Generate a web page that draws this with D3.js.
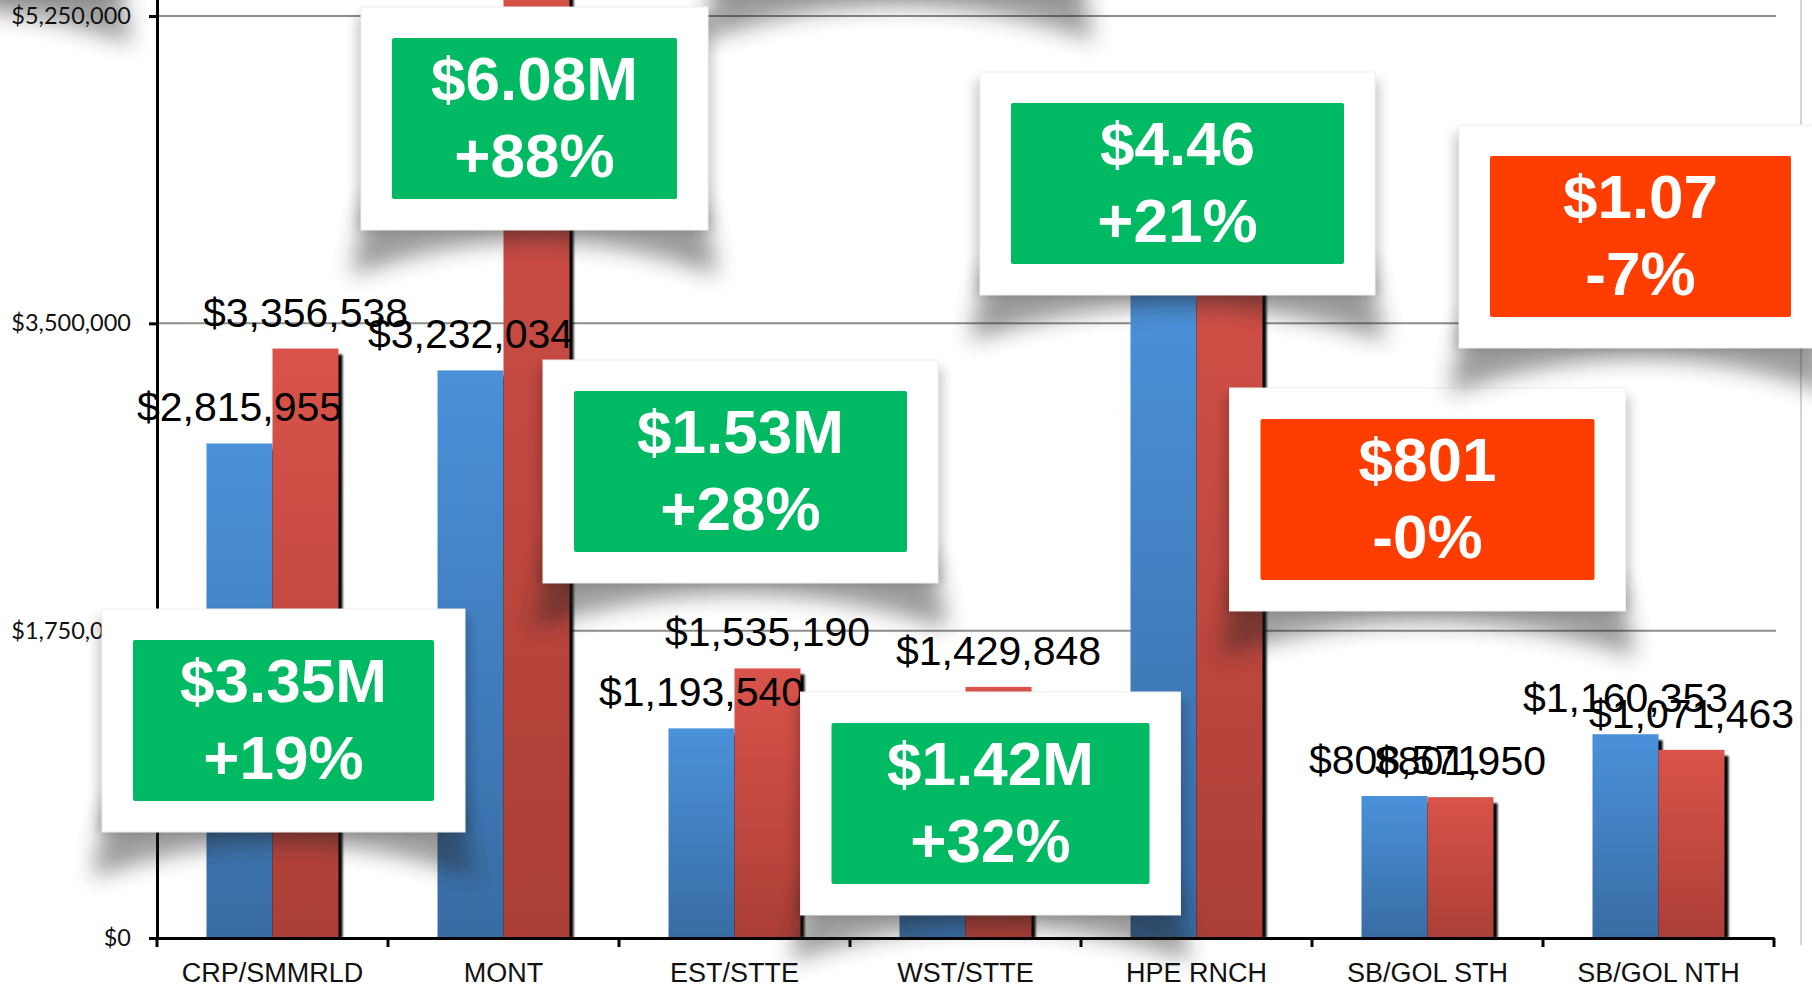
<!DOCTYPE html>
<html>
<head>
<meta charset="utf-8">
<script src="https://cdn.jsdelivr.net/npm/d3@7"></script>
<style>
  html, body { margin: 0; padding: 0; background: #fff; overflow: hidden; }
  svg { display: block; }
</style>
</head>
<body>
<div id="chart"></div>
<script>
// data
const categories = ["CRP/SMMRLD", "MONT", "EST/STTE", "WST/STTE", "HPE RNCH", "SB/GOL STH", "SB/GOL NTH"];
const seriesNames = ["before", "after"];
const beforeValues = [2815955, 3232034, 1193540, 1080000, 3680000, 808571, 1160353];
const afterValues = [3356538, 6076000, 1535190, 1429848, 4460000, 801950, 1071463];
const yTicks = [0, 1750000, 3500000, 5250000, 7000000];
const calloutAmounts = ["$3.35M", "$6.08M", "$1.53M", "$1.42M", "$4.46", "$801", "$1.07"];
const calloutChanges = ["+19%", "+88%", "+28%", "+32%", "+21%", "-0%", "-7%"];

// where the callout cards sit (offset from category centre, top of coloured box, box width)
const calloutLayout = [
    { dx: 11, top: 640, w: 301 },
    { dx: 31, top: 38, w: 285 },
    { dx: 6, top: 391, w: 333 },
    { dx: 25, top: 723, w: 318 },
    { dx: -19, top: 103, w: 333 },
    { dx: 0, top: 419, w: 334 },
    { dx: -18, top: 156, w: 301 }
];
// cards sitting above the visible area, only their shadows show
const ghostCards = [
    { x: -250, y: -227, w: 372, h: 225 },
    { x: 712, y: -230, w: 372, h: 225 }
];

const W = 1812, H = 986;
const left = 157, right = 1774, base = 938, top5250 = 16;
const green = "#00b963", orange = "#ff3d00";

const svg = d3.select("#chart").append("svg")
    .attr("width", W)
    .attr("height", H);

const defs = svg.append("defs");

function grad(id, c1, c2) {
    const g = defs.append("linearGradient").attr("id", id)
        .attr("x1", 0).attr("y1", 0).attr("x2", 0).attr("y2", 1);
    g.append("stop").attr("offset", "0%").attr("stop-color", c1);
    g.append("stop").attr("offset", "100%").attr("stop-color", c2);
}
grad("gBlue", "#4a91da", "#386ca3");
grad("gRed", "#d9534a", "#ab3f37");

function blur(id, sd) {
    defs.append("filter").attr("id", id)
        .attr("x", "-50%").attr("y", "-100%").attr("width", "200%").attr("height", "300%")
        .append("feGaussianBlur").attr("stdDeviation", sd);
}
blur("bBar", 0.8);
blur("bSide", 6);
blur("bCurl", 11);

// scales
const x0 = d3.scaleBand().domain(categories).range([left, right]);
const x1 = d3.scaleBand().domain(seriesNames).range([0, x0.bandwidth()]).paddingOuter(0.75);
const y = d3.scaleLinear().domain([0, 7000000])
    .range([base, base - (base - top5250) * 7000000 / 5250000]);

// gridlines
svg.append("g").selectAll("line")
    .data(yTicks.filter(d => d > 0))
    .join("line")
    .attr("x1", left).attr("x2", 1776)
    .attr("y1", d => y(d)).attr("y2", d => y(d))
    .attr("stroke", "#8c8c8c")
    .attr("stroke-width", 2);

// right border of the chart area
svg.append("line")
    .attr("x1", 1801).attr("x2", 1801).attr("y1", 0).attr("y2", 945)
    .attr("stroke", "#a8a8a8").attr("stroke-width", 1);

// bars
const rows = [];
categories.forEach((c, i) => {
    rows.push({ cat: c, s: "before", v: beforeValues[i] });
    rows.push({ cat: c, s: "after", v: afterValues[i] });
});

const barG = svg.append("g");
rows.forEach(d => {
    const bx = x0(d.cat) + x1(d.s);
    const by = y(d.v);
    barG.append("rect")
        .attr("x", bx + 4).attr("y", by + 6)
        .attr("width", x1.bandwidth()).attr("height", base - by - 6)
        .attr("fill", "#000")
        .attr("filter", "url(#bBar)");
    barG.append("rect")
        .attr("x", bx).attr("y", by)
        .attr("width", x1.bandwidth()).attr("height", base - by)
        .attr("fill", d.s === "before" ? "url(#gBlue)" : "url(#gRed)");
});

// value labels
svg.append("g").selectAll("text")
    .data(rows)
    .join("text")
    .attr("x", d => x0(d.cat) + x1(d.s) + x1.bandwidth() / 2)
    .attr("y", d => y(d.v) - 22)
    .attr("text-anchor", "middle")
    .style("font-family", "'Liberation Sans', Arial, sans-serif")
    .style("font-size", "41px")
    .attr("fill", "#000")
    .text(d => d3.format("$,")(d.v));

// lifted-corner shadow under a card
function cardShadow(g, cx, cy, cw, ch) {
    const x1c = cx + cw, yb = cy + ch;
    g.append("rect")
        .attr("x", cx - 5).attr("y", cy + 8)
        .attr("width", cw + 10).attr("height", ch - 8)
        .attr("fill", "#000").attr("opacity", 0.2)
        .attr("filter", "url(#bSide)");
    g.append("path")
        .attr("d", `M${cx + 6},${yb - 30} L${x1c - 6},${yb - 30} L${x1c + 10},${yb + 46} Q${(cx + x1c) / 2},${yb - 24} ${cx - 10},${yb + 46} Z`)
        .attr("fill", "#222").attr("opacity", 0.45)
        .attr("filter", "url(#bCurl)");
}

const ghostG = svg.append("g");
ghostCards.forEach(c => {
    cardShadow(ghostG, c.x, c.y, c.w, c.h);
    ghostG.append("rect").attr("x", c.x).attr("y", c.y).attr("width", c.w).attr("height", c.h).attr("fill", "#fff");
});

// Y axis
const yAxis = svg.append("g")
    .attr("transform", "translate(" + left + ",0)")
    .call(d3.axisLeft(y).tickValues(yTicks).tickSize(8).tickSizeOuter(0).tickPadding(18).tickFormat(d3.format("$,")));
yAxis.select(".domain").attr("stroke", "#000").attr("stroke-width", 3);
yAxis.selectAll(".tick line").attr("stroke", "#000").attr("stroke-width", 3);
yAxis.selectAll("text")
    .style("font-family", "Lato, 'Open Sans', sans-serif")
    .style("font-size", "23.5px")
    .attr("fill", "#111");

// X axis
const xAxis = svg.append("g")
    .attr("transform", "translate(0," + base + ")")
    .call(d3.axisBottom(x0).tickSize(0).tickPadding(25));
xAxis.select(".domain").attr("stroke", "#000").attr("stroke-width", 3);
xAxis.selectAll("text")
    .style("font-family", "'Liberation Sans', Arial, sans-serif")
    .style("font-size", "27px")
    .attr("fill", "#111");
xAxis.append("g").selectAll("line")
    .data(d3.range(categories.length + 1))
    .join("line")
    .attr("x1", i => left + i * x0.step()).attr("x2", i => left + i * x0.step())
    .attr("y1", 0).attr("y2", 9)
    .attr("stroke", "#000").attr("stroke-width", 3);

// callout cards
const pad = 31, boxH = 161;
const callG = svg.append("g");
categories.forEach((c, i) => {
    const L = calloutLayout[i];
    const bx = x0(c) + x0.bandwidth() / 2 + L.dx - L.w / 2;
    const cx = bx - pad, cy = L.top - pad, cw = L.w + 2 * pad, ch = boxH + 2 * pad;
    const g = callG.append("g");
    cardShadow(g, cx, cy, cw, ch);
    g.append("rect")
        .attr("x", cx).attr("y", cy).attr("width", cw).attr("height", ch)
        .attr("fill", "#fff").attr("stroke", "#f0f0f0").attr("stroke-width", 1);
    const col = calloutChanges[i].startsWith("-") ? orange : green;
    g.append("rect")
        .attr("x", bx).attr("y", L.top).attr("width", L.w).attr("height", boxH)
        .attr("rx", 2)
        .attr("fill", col);
    [calloutAmounts[i], calloutChanges[i]].forEach((t, k) => {
        g.append("text")
            .attr("x", bx + L.w / 2)
            .attr("y", L.top + 62 + k * 77)
            .attr("text-anchor", "middle")
            .style("font-family", "'Liberation Sans', Arial, sans-serif")
            .style("font-weight", "bold")
            .style("font-size", "62px")
            .attr("fill", "#fff")
            .text(t);
    });
});
</script>
</body>
</html>
